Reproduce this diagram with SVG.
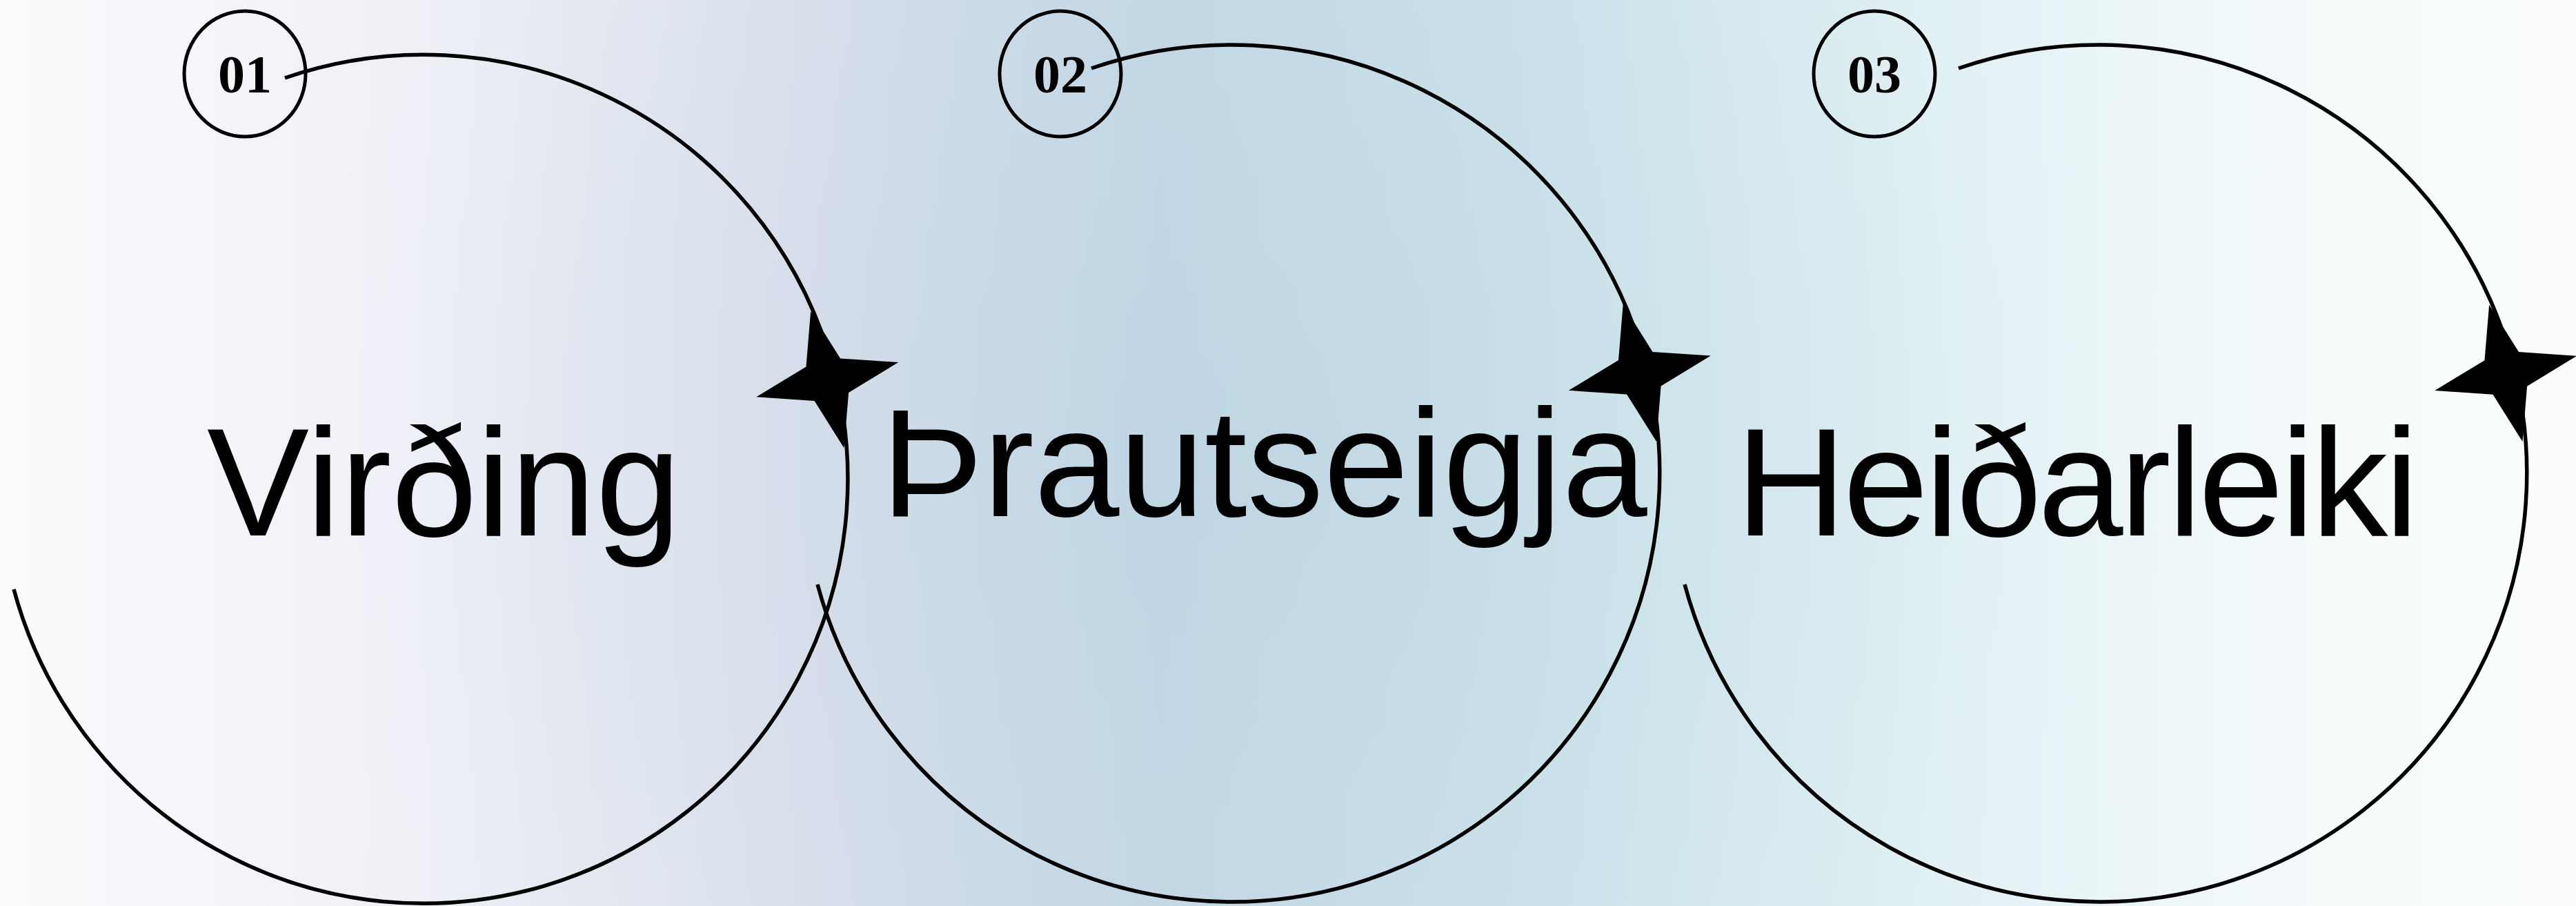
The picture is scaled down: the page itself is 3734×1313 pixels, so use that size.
<svg xmlns="http://www.w3.org/2000/svg" xmlns:xlink="http://www.w3.org/1999/xlink" width="3734" height="1313" viewBox="0 0 3734 1313">
  <defs>
    <linearGradient id="bg" x1="0" y1="0" x2="3734" y2="0" gradientUnits="userSpaceOnUse">
      <stop offset="0" stop-color="#fbfbfd"/>
      <stop offset="0.16" stop-color="#eef0f6"/>
      <stop offset="0.32" stop-color="#d9dfeb"/>
      <stop offset="0.45" stop-color="#c2d6e4"/>
      <stop offset="0.6" stop-color="#cbe3ea"/>
      <stop offset="0.75" stop-color="#e0f0f3"/>
      <stop offset="0.9" stop-color="#f5fafb"/>
      <stop offset="1" stop-color="#fbfdfd"/>
    </linearGradient>
    <radialGradient id="glow" cx="1750" cy="650" r="1500" gradientUnits="userSpaceOnUse">
      <stop offset="0" stop-color="#b9d3e1" stop-opacity="0.45"/>
      <stop offset="0.6" stop-color="#c8dbe6" stop-opacity="0.15"/>
      <stop offset="1" stop-color="#ffffff" stop-opacity="0"/>
    </radialGradient>
    <polygon id="star" points="0,-102 25.5,-25.5 106,0 25.5,25.5 0,102 -25.5,25.5 -106,0 -25.5,-25.5"/>
    <style>
      .arc { fill: none; stroke: #000; stroke-width: 5.5; }
      .badge { fill: none; stroke: #000; stroke-width: 5; }
      .num { font-family: "Liberation Serif", "Times New Roman", serif; font-weight: bold; font-size: 78px; fill: #000; text-anchor: middle; }
      .label { font-family: "Liberation Sans", Arial, sans-serif; font-size: 222px; fill: #000; }
      .star { fill: #000; }
    </style>
  </defs>

  <rect x="0" y="0" width="3734" height="1313" fill="url(#bg)"/>
  <rect x="0" y="0" width="3734" height="1313" fill="url(#glow)"/>

  <g id="connectors">
    <path class="arc" d="M 413 113 A 615 615 0 1 1 20 854"/>
    <use class="star" xlink:href="#star" href="#star" transform="translate(1199.3,550.2) rotate(-13.7)"/>
    <path class="arc" d="M 1582 99 A 621 621 0 1 1 1185 847"/>
    <use class="star" xlink:href="#star" href="#star" transform="translate(2376.8,540.7) rotate(-13.7)"/>
    <path class="arc" d="M 2839 99 A 621 621 0 1 1 2442 847"/>
    <use class="star" xlink:href="#star" href="#star" transform="translate(3632.3,540.9) rotate(-13.7)"/>
  </g>

  <g id="node-1">
    <ellipse class="badge" cx="355" cy="107" rx="88" ry="91"/>
    <text class="num" x="355" y="134">01</text>
    <text class="label" x="300" y="776">Virðing</text>
  </g>

  <g id="node-2">
    <ellipse class="badge" cx="1537" cy="107" rx="88" ry="91"/>
    <text class="num" x="1537" y="134">02</text>
    <text class="label" x="1277" y="748">Þrautseigja</text>
  </g>

  <g id="node-3">
    <ellipse class="badge" cx="2717" cy="107" rx="88" ry="91"/>
    <text class="num" x="2717" y="134">03</text>
    <text class="label" x="2516" y="776" textLength="990" lengthAdjust="spacing">Heiðarleiki</text>
  </g>
</svg>
